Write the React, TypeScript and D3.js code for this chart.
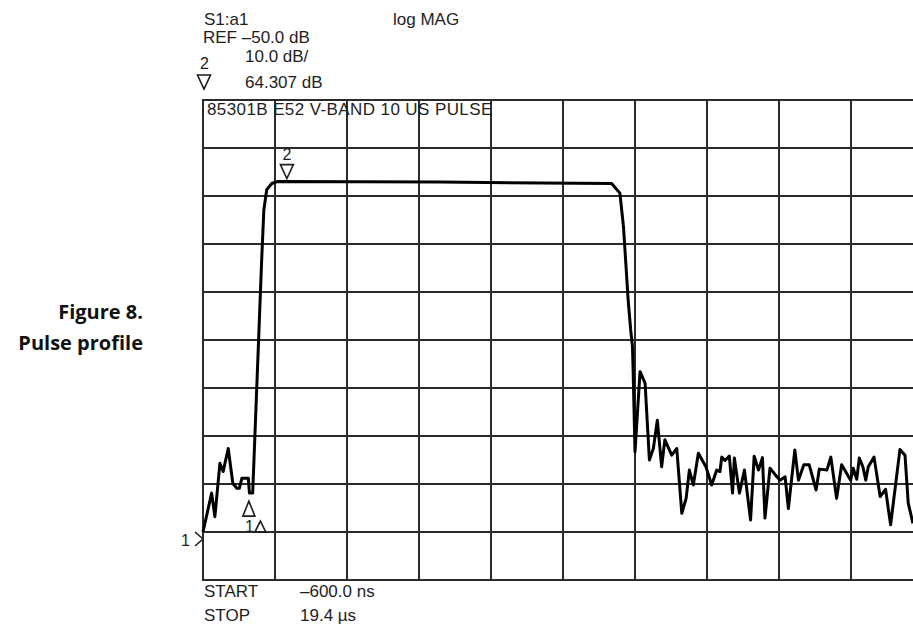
import React, { useEffect, useRef } from 'react';
import * as d3 from 'd3';

// trace: time in microseconds, magnitude in dB
const timeUs = [
  -0.6, -0.36, -0.27, -0.13, -0.04, 0.1, 0.23, 0.34, 0.41, 0.48, 0.66, 0.69, 0.78,
  1.03, 1.09, 1.17, 1.31, 1.46, 5.98, 10.75, 10.98, 11.08, 11.21, 11.28, 11.33, 11.35,
  11.4, 11.54, 11.68, 11.8, 11.91, 12.02, 12.14, 12.23, 12.42, 12.56, 12.7, 12.82, 12.91,
  13.02, 13.16, 13.37, 13.53, 13.67, 13.76, 13.81, 13.9, 14.02, 14.11, 14.16, 14.3, 14.44,
  14.61, 14.71, 14.83, 14.94, 15.01, 15.15, 15.34, 15.43, 15.57, 15.66, 15.84, 15.94, 16.09,
  16.24, 16.43, 16.52, 16.73, 16.84, 17.0, 17.14, 17.39, 17.46, 17.56, 17.63, 17.73, 17.81,
  17.88, 18.04, 18.21, 18.36, 18.5, 18.76, 18.9, 18.99, 19.12,
];
const magDb = [
  -50.0, -41.9, -46.8, -35.7, -37.4, -32.6, -39.9, -40.9, -40.9, -38.8, -38.8, -41.9, -41.9,
  6.7, 17.1, 21.3, 22.6, 23.0, 22.9, 22.6, 20.6, 13.6, -1.7, -7.9, -11.4, -16.9,
  -33.3, -16.6, -19.0, -35.0, -32.6, -26.7, -36.4, -30.8, -34.0, -32.6, -46.1, -43.0, -37.1,
  -40.2, -33.6, -36.4, -40.2, -37.1, -37.4, -34.4, -35.1, -34.2, -41.9, -34.6, -41.9, -37.1,
  -47.5, -34.2, -37.1, -34.5, -47.1, -36.7, -38.5, -39.2, -38.5, -45.1, -32.9, -39.2, -36.0,
  -36.0, -41.25, -36.9, -37.1, -34.4, -43.0, -36.0, -39.2, -36.7, -39.0, -34.6, -36.4, -39.2,
  -36.4, -34.4, -42.6, -41.1, -48.5, -32.8, -34.0, -44.0, -48.2,
];

// graticule: 10 divisions of 2 us, 10 divisions of 10 dB
const xGrid = [-0.6, 1.4, 3.4, 5.4, 7.4, 9.4, 11.4, 13.4, 15.4, 17.4, 19.4];
const yGrid = [-60, -50, -40, -30, -20, -10, 0, 10, 20, 30, 40];
const refLevel = -50;

// markers
const marker1 = { label: '1', t: 0.73, db: -41.9 };
const marker2 = { label: '2', t: 1.73, db: 23.0 };

const headerLines = ['S1:a1', 'REF \u201350.0 dB', '10.0 dB/', '64.307 dB'];
const footerLabels = ['START', 'STOP'];
const footerValues = ['\u2013600.0 ns', '19.4 \u00b5s'];
const plotTitle = '85301B E52 V-BAND 10 US PULSE';

const W = 913;
const H = 633;
const ink = '#1e1e1e';
const font = '"Liberation Sans", Arial, sans-serif';
const fs = 17;

const PulseProfile: React.FC = () => {
  const ref = useRef<SVGSVGElement>(null);

  useEffect(() => {
    const svg = d3.select(ref.current);
    svg.selectAll('*').remove();

    const x = d3.scaleLinear().domain([-0.6, 19.4]).range([203, 923]);
    const y = d3.scaleLinear().domain([-60, 40]).range([580, 100]);

    // grid
    const grid = svg.append('g').attr('stroke', '#2b2b2b').attr('stroke-width', 2);
    grid
      .selectAll('.v')
      .data(xGrid)
      .enter()
      .append('line')
      .attr('x1', (d) => x(d))
      .attr('x2', (d) => x(d))
      .attr('y1', y(40))
      .attr('y2', y(-60));
    grid
      .selectAll('.h')
      .data(yGrid)
      .enter()
      .append('line')
      .attr('x1', x(-0.6) - 1)
      .attr('x2', x(19.4) + 1)
      .attr('y1', (d) => y(d))
      .attr('y2', (d) => y(d));

    // title inside graticule
    svg
      .append('text')
      .attr('x', x(-0.6) + 4)
      .attr('y', y(40) + 15)
      .attr('font-family', font)
      .attr('font-size', fs)
      .attr('letter-spacing', 0.4)
      .attr('fill', ink)
      .text(plotTitle);

    // trace
    const line = d3
      .line<number>()
      .x((d, i) => x(timeUs[i]))
      .y((d) => y(d))
      .curve(d3.curveLinear);
    svg
      .append('path')
      .attr('d', line(magDb))
      .attr('fill', 'none')
      .attr('stroke', '#000')
      .attr('stroke-width', 3)
      .attr('stroke-linejoin', 'round');

    // header
    const header = svg.append('g').attr('font-family', font).attr('font-size', fs).attr('fill', ink);
    header.append('text').attr('x', 204).attr('y', 25).text(headerLines[0]);
    header.append('text').attr('x', 393).attr('y', 25).text('log MAG');
    header.append('text').attr('x', 203).attr('y', 43).text(headerLines[1]);
    header.append('text').attr('x', 245).attr('y', 62).text(headerLines[2]);
    header.append('text').attr('x', 245).attr('y', 88).text(headerLines[3]);
    header.append('text').attr('x', 200).attr('y', 69).attr('font-size', 16).text(marker2.label);

    const downTri = (cx: number, tip: number) =>
      `M${cx - 6.5},${tip - 14} L${cx + 6.5},${tip - 14} L${cx},${tip} Z`;
    const upTri = (cx: number, tip: number) =>
      `M${cx - 6},${tip + 15} L${cx + 6},${tip + 15} L${cx},${tip} Z`;

    const marks = svg.append('g').attr('fill', 'none').attr('stroke', ink).attr('stroke-width', 1.6);
    marks.append('path').attr('d', downTri(204, 89));

    // marker 2 on the pulse top
    const m2x = x(marker2.t);
    marks.append('path').attr('d', downTri(m2x, y(marker2.db) - 3));
    svg
      .append('text')
      .attr('x', m2x)
      .attr('y', y(marker2.db) - 22)
      .attr('text-anchor', 'middle')
      .attr('font-family', font)
      .attr('font-size', 16)
      .attr('fill', ink)
      .text(marker2.label);

    // marker 1 (delta reference)
    const m1x = x(marker1.t) - 2;
    marks.append('path').attr('d', upTri(m1x, y(marker1.db) + 8));
    svg
      .append('text')
      .attr('x', m1x - 4)
      .attr('y', y(marker1.db) + 39)
      .attr('font-family', font)
      .attr('font-size', 16)
      .attr('fill', ink)
      .text(marker1.label);
    marks
      .append('path')
      .attr('d', `M${m1x + 6},${y(marker1.db) + 39} L${m1x + 17},${y(marker1.db) + 39} L${m1x + 11.5},${y(marker1.db) + 28} Z`);

    // reference level pointer
    const ry = y(refLevel) + 7;
    marks.append('path').attr('d', `M${x(-0.6) - 8},${ry - 7} L${x(-0.6)},${ry} L${x(-0.6) - 8},${ry + 7}`);
    svg
      .append('text')
      .attr('x', 181)
      .attr('y', ry + 7)
      .attr('font-family', font)
      .attr('font-size', 16)
      .attr('fill', ink)
      .text('1');

    // footer
    const footer = svg.append('g').attr('font-family', font).attr('font-size', fs).attr('fill', ink);
    footerLabels.forEach((s, i) => {
      footer.append('text').attr('x', 204).attr('y', 597 + i * 24).text(s);
      footer.append('text').attr('x', 300).attr('y', 597 + i * 24).text(footerValues[i]);
    });

    // figure caption
    const cap = svg
      .append('g')
      .attr('font-family', '"Open Sans", Lato, sans-serif')
      .attr('font-weight', 700)
      .attr('font-size', 20)
      .attr('fill', '#111')
      .attr('text-anchor', 'end');
    cap.append('text').attr('x', 143).attr('y', 319).text('Figure 8.');
    cap.append('text').attr('x', 143).attr('y', 350).text('Pulse profile');
  }, []);

  return (
    <svg
      ref={ref}
      width={W}
      height={H}
      style={{ position: 'absolute', left: 0, top: 0, background: '#fff' }}
    />
  );
};

export default function App() {
  return <PulseProfile />;
}
